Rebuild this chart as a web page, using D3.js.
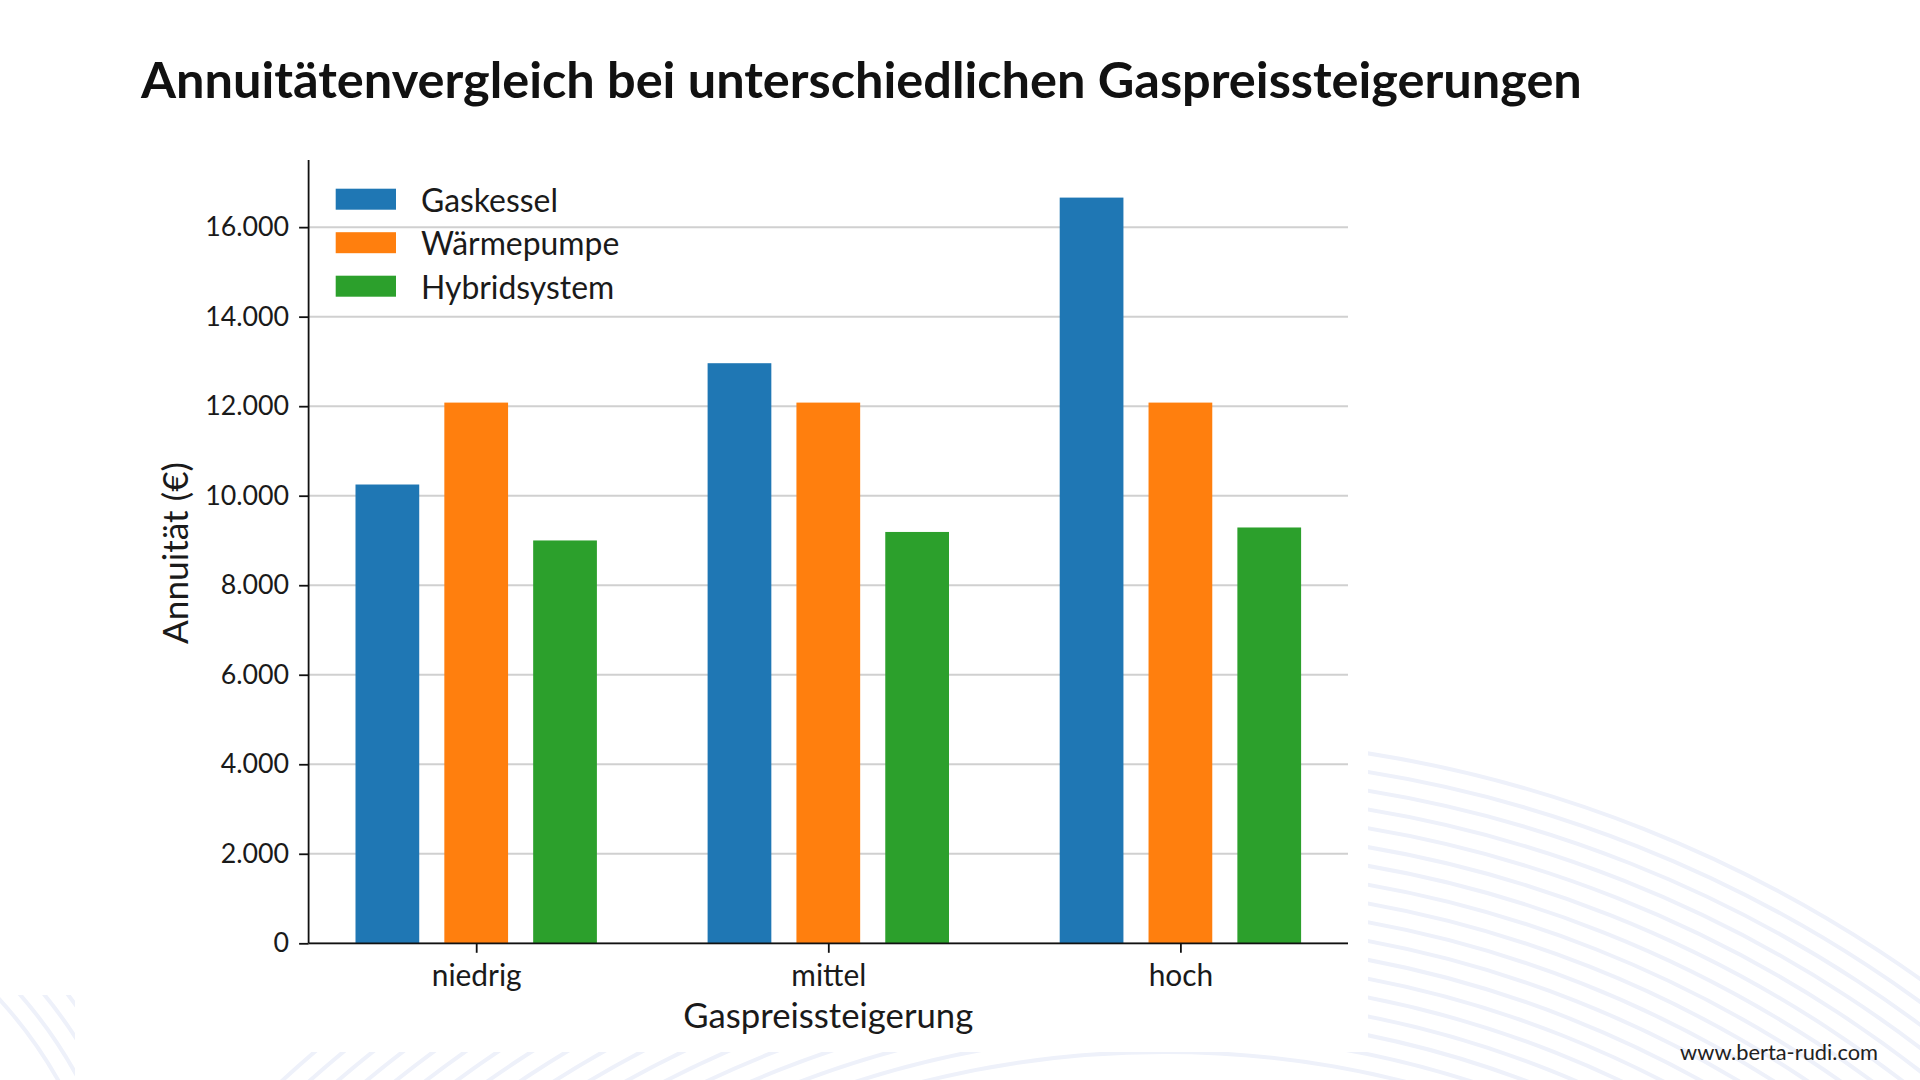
<!DOCTYPE html>
<html><head><meta charset="utf-8">
<script src="https://cdn.jsdelivr.net/npm/d3@7"></script>
<style>html,body{margin:0;padding:0;background:#fff;} svg{display:block;}</style>
</head><body>
<svg id="chart" width="1920" height="1080"></svg>
<script>
// ---- data ----
const title = "Annuitätenvergleich bei unterschiedlichen Gaspreissteigerungen";
const categories = ["niedrig", "mittel", "hoch"];
const seriesNames = ["Gaskessel", "Wärmepumpe", "Hybridsystem"];
const gaskessel = [10250, 12960, 16660];
const waermepumpe = [12080, 12080, 12080];
const hybridsystem = [9000, 9190, 9290];
const yTicks = [0, 2000, 4000, 6000, 8000, 10000, 12000, 14000, 16000];
const yLabel = "Annuität (€)";
const xLabel = "Gaspreissteigerung";
const watermark = "www.berta-rudi.com";
const colors = ["#1f77b4", "#ff7f0e", "#2ca02c"];

// ---- layout ----
const FONT = "Lato, 'Open Sans', sans-serif";
const TXT = "#1a1a1a";
const plot = {left: 308.6, right: 1348, top: 160, bottom: 943.3};
const yMax = 17500;

const svg = d3.select("#chart");

// ---- background decoration ----
const defs = svg.append("defs");
defs.append("clipPath").attr("id", "clipR")
  .append("path").attr("d", "M1368,0H1920V1080H0V1052H1368Z");
defs.append("clipPath").attr("id", "clipL")
  .append("rect").attr("x", 0).attr("y", 995).attr("width", 75).attr("height", 90);
const deco = svg.append("g").attr("fill", "none").attr("stroke", "#eef1fa").attr("stroke-width", 4);
const gR = deco.append("g").attr("clip-path", "url(#clipR)");
for (let r = 990; r <= 1306; r += 18.5) {
  gR.append("circle").attr("cx", 1164).attr("cy", 2042).attr("r", r);
}
const gL = deco.append("g").attr("clip-path", "url(#clipL)");
for (let r = 446; r <= 540; r += 18.5) {
  gL.append("circle").attr("cx", -330).attr("cy", 1300).attr("r", r);
}

// ---- scales ----
const x = d3.scalePoint().domain(categories).range([plot.left, plot.right]).padding(0.476);
const step = x.step();
const barOffset = step * 0.2523;
const barWidth = step * 0.181;
const y = d3.scaleLinear().domain([0, yMax]).range([plot.bottom, plot.top]);

const de = d3.formatLocale({decimal: ",", thousands: ".", grouping: [3], currency: ["", " €"]});
const fmt = de.format(",.0f");

// gridlines
svg.append("g").selectAll("line").data(yTicks).join("line")
  .attr("x1", plot.left).attr("x2", plot.right)
  .attr("y1", d => y(d)).attr("y2", d => y(d))
  .attr("stroke", "#d0d0d0").attr("stroke-width", 2);

// bars
const series = [gaskessel, waermepumpe, hybridsystem];
series.forEach((vals, si) => {
  svg.append("g").attr("fill", colors[si]).selectAll("rect")
    .data(vals.map((v, i) => ({cat: categories[i], v})))
    .join("rect")
    .attr("x", d => x(d.cat) + (si - 1) * barOffset - barWidth / 2)
    .attr("width", barWidth)
    .attr("y", d => y(d.v))
    .attr("height", d => y(0) - y(d.v));
});

// y axis
const yAxis = svg.append("g").attr("transform", `translate(${plot.left},0)`)
  .call(d3.axisLeft(y).tickValues(yTicks).tickFormat(fmt).tickSize(9.5).tickPadding(10));
yAxis.select(".domain").attr("d", `M0,${plot.top}V${plot.bottom}`).attr("stroke", "#111").attr("stroke-width", 1.8);
yAxis.selectAll(".tick line").attr("stroke", "#111").attr("stroke-width", 1.8);
yAxis.selectAll(".tick text").attr("font-family", FONT).attr("font-size", 28).attr("fill", TXT);

// x axis
const xAxis = svg.append("g").attr("transform", `translate(0,${plot.bottom})`)
  .call(d3.axisBottom(x).tickSize(9.5).tickPadding(12));
xAxis.select(".domain").attr("d", `M${plot.left},0H${plot.right}`).attr("stroke", "#111").attr("stroke-width", 1.8);
xAxis.selectAll(".tick line").attr("stroke", "#111").attr("stroke-width", 1.8);
xAxis.selectAll(".tick text").attr("font-family", FONT).attr("font-size", 28).attr("fill", TXT)
  .attr("dy", null).attr("y", 43);

function fitSize(node, targetW) {
  const w = node.getComputedTextLength();
  const fs = parseFloat(d3.select(node).attr("font-size"));
  return fs * targetW / w;
}
// y tick size from "16.000" width 84
const yTickNodes = yAxis.selectAll(".tick text").nodes();
const yFs = fitSize(yTickNodes[yTickNodes.length - 1], 84);
yAxis.selectAll(".tick text").attr("font-size", yFs);
// x tick size from "niedrig" width 90
const xTickNodes = xAxis.selectAll(".tick text").nodes();
const xFs = fitSize(xTickNodes[0], 90);
xAxis.selectAll(".tick text").attr("font-size", xFs);

function fitText(sel, targetW) {
  sel.attr("font-size", fitSize(sel.node(), targetW));
  return sel;
}

// axis labels
fitText(svg.append("text").attr("x", (plot.left + plot.right) / 2).attr("y", 1028)
  .attr("text-anchor", "middle").attr("font-family", FONT).attr("font-size", 30).attr("fill", TXT)
  .text(xLabel), 290);

fitText(svg.append("text").attr("transform", "translate(174,553) rotate(-90)")
  .attr("text-anchor", "middle").attr("dominant-baseline", "central")
  .attr("font-family", FONT).attr("font-size", 30).attr("fill", TXT)
  .text(yLabel), 182);

// title
fitText(svg.append("text").attr("x", 141).attr("y", 98)
  .attr("font-family", FONT).attr("font-weight", 700).attr("font-size", 50).attr("fill", "#111")
  .text(title), 1441);

// legend
const legend = svg.append("g");
seriesNames.forEach((name, i) => {
  const yy = 188.7 + i * 43.5;
  legend.append("rect").attr("x", 335.7).attr("y", yy).attr("width", 60.3).attr("height", 21)
    .attr("fill", colors[i]);
  legend.append("text").attr("class", "legtxt").attr("x", 421).attr("y", yy + 11)
    .attr("dominant-baseline", "central")
    .attr("font-family", FONT).attr("font-size", 28).attr("fill", TXT).text(name);
});
const legNodes = legend.selectAll(".legtxt").nodes();
const legFs = fitSize(legNodes[0], 137);
legend.selectAll(".legtxt").attr("font-size", legFs);

// watermark
fitText(svg.append("text").attr("x", 1878).attr("y", 1060).attr("text-anchor", "end")
  .attr("font-family", FONT).attr("font-size", 18).attr("fill", "#222")
  .text(watermark), 198);
</script>
</body></html>
